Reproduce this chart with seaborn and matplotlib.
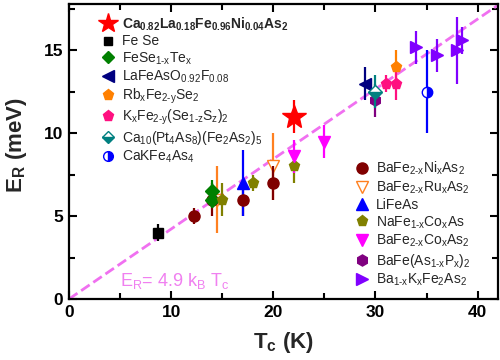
import matplotlib
matplotlib.use("Agg")
import matplotlib.pyplot as plt
import seaborn as sns
from matplotlib.lines import Line2D
from matplotlib.ticker import MultipleLocator

# ---------------------------------------------------
# Data (Tc in K, E_R in meV, error in meV)
# ---------------------------------------------------

star_tc = [22.0]
star_er = [11.0]
star_err = [1.0]

fese_tc = [8.7]
fese_er = [4.0]
fese_err = [0.5]

fesete_tc = [14.0, 14.0]
fesete_er = [6.5, 6.0]
fesete_err = [0.7, 0.5]

lafeaso_tc = [29.0]
lafeaso_er = [13.0]
lafeaso_err = [1.0]

rb_tc = [32.0]
rb_er = [14.0]
rb_err = [1.0]

kfese_tc = [31.0, 32.0]
kfese_er = [13.0, 13.0]
kfese_err = [0.5, 1.0]

ca10_tc = [30.0]
ca10_er = [12.5]
ca10_err = [1.0]

cak_tc = [35.0]
cak_er = [12.5]
cak_err = [2.5]

bani_tc = [12.2, 14.0, 17.0, 20.0]
bani_er = [5.0, 6.0, 6.0, 7.0]
bani_err = [0.5, 1.0, 1.0, 1.0]

baru_tc = [14.5, 20.0]
baru_er = [6.0, 8.0]
baru_err = [2.0, 2.0]

lifeas_tc = [17.0]
lifeas_er = [7.0]
lifeas_err = [2.0]

naco_tc = [15.0, 18.0, 22.0]
naco_er = [6.0, 7.0, 8.0]
naco_err = [1.0, 0.5, 1.0]

baco_tc = [22.0, 25.0]
baco_er = [8.6, 9.5]
baco_err = [1.0, 1.0]

bap_tc = [30.0]
bap_er = [12.0]
bap_err = [1.0]

bak_tc = [34.0, 36.0, 38.0, 38.5]
bak_er = [15.2, 14.7, 15.0, 15.6]
bak_err = [1.0, 1.0, 2.0, 0.8]

fit_factor = 4.9
k_b = 0.08617  # meV/K
fit_tc = [0.0, 42.0]

# ---------------------------------------------------
# Style
# ---------------------------------------------------

sns.set_theme(style="ticks")
plt.rcParams["font.family"] = ["Liberation Sans", "DejaVu Sans"]
plt.rcParams["mathtext.fontset"] = "custom"
plt.rcParams["mathtext.rm"] = "Liberation Sans"
plt.rcParams["mathtext.it"] = "Liberation Sans:italic"
plt.rcParams["mathtext.bf"] = "Liberation Sans:bold"
plt.rcParams["mathtext.default"] = "regular"

fig = plt.figure(figsize=(5, 3.6), dpi=100)
ax = fig.add_axes([69 / 500, 61 / 360, 429 / 500, 295 / 360])

# fit line
fit_er = [fit_factor * k_b * t for t in fit_tc]
sns.lineplot(x=fit_tc, y=fit_er, ax=ax, color="#f070f0", linewidth=2,
             dashes=(6, 4), linestyle="--", zorder=1)


def series(tc, er, err, color, marker, ms=8, fill="full", mfc=None, z=3):
    ax.errorbar(tc, er, yerr=err, fmt="none", ecolor=color,
                elinewidth=1.6, capsize=0, zorder=z)
    ax.plot(tc, er, linestyle="none", marker=marker, color=color, ms=ms,
            fillstyle=fill, markerfacecoloralt="white",
            markerfacecolor=mfc if mfc else color,
            markeredgecolor=color, markeredgewidth=1.0, zorder=z + 0.5)


series(bani_tc, bani_er, bani_err, "#800000", "o")
series(fesete_tc, fesete_er, fesete_err, "#008000", "D", ms=7)
series(baru_tc, baru_er, baru_err, "#ff8020", "v", mfc="white", z=2)
series(lifeas_tc, lifeas_er, lifeas_err, "#0000ff", "^")
series(naco_tc, naco_er, naco_err, "#808000", "p")
series(baco_tc, baco_er, baco_err, "#ff00ff", "v", z=3.2)
series(bap_tc, bap_er, bap_err, "#800080", "h")
series(bak_tc, bak_er, bak_err, "#8000ff", ">")
series(fese_tc, fese_er, fese_err, "#000000", "s", ms=6.5)
series(lafeaso_tc, lafeaso_er, lafeaso_err, "#000080", "<")
series(rb_tc, rb_er, rb_err, "#ff8000", "p")
series(kfese_tc, kfese_er, kfese_err, "#ff1080", "p")
series(ca10_tc, ca10_er, ca10_err, "#008080", "D", ms=7, fill="bottom", z=4)
series(cak_tc, cak_er, cak_err, "#0000ff", "o", ms=7.5, fill="right")
series(star_tc, star_er, star_err, "#ff0000", "*", ms=18, z=5)

ax.text(5.0, 1.1, r"E$_R$= 4.9 k$_B$ T$_c$", color="#f080f0", fontsize=13,
        va="center", ha="left")

# ---------------------------------------------------
# Axes
# ---------------------------------------------------

ax.set_xlim(0, 42)
ax.set_ylim(0, 17.8)
ax.xaxis.set_major_locator(MultipleLocator(10))
ax.xaxis.set_minor_locator(MultipleLocator(5))
ax.yaxis.set_major_locator(MultipleLocator(5))
ax.yaxis.set_minor_locator(MultipleLocator(2.5))
ax.tick_params(which="both", direction="in", top=True, right=True,
               width=1.5, colors="black")
ax.tick_params(which="major", length=6, labelsize=12.5, pad=4)
ax.tick_params(which="minor", length=4)
for lbl in ax.get_xticklabels() + ax.get_yticklabels():
    lbl.set_fontweight("bold")
for sp in ax.spines.values():
    sp.set_linewidth(1.6)
    sp.set_color("black")

ax.set_xlabel(r"T$_c$ (K)", fontsize=16, fontweight="bold")
ax.set_ylabel(r"E$_R$ (meV)", fontsize=16, fontweight="bold")
ax.xaxis.set_label_coords(0.5, -0.105)
ax.yaxis.set_label_coords(-0.093, 0.52)

# ---------------------------------------------------
# Legends
# ---------------------------------------------------


def handle(color, marker, ms=8, fill="full", mfc=None):
    return Line2D([], [], linestyle="none", marker=marker, color=color,
                  ms=ms, fillstyle=fill, markerfacecoloralt="white",
                  markerfacecolor=mfc if mfc else color,
                  markeredgecolor=color)


h1 = [
    handle("#ff0000", "*", ms=15),
    handle("#000000", "s", ms=6),
    handle("#008000", "D", ms=6.5),
    handle("#000080", "<"),
    handle("#ff8000", "p"),
    handle("#ff1080", "p"),
    handle("#008080", "D", ms=6.5, fill="bottom"),
    handle("#0000ff", "o", ms=7, fill="right"),
]
l1 = [
    r"Ca$_{0.82}$La$_{0.18}$Fe$_{0.96}$Ni$_{0.04}$As$_2$",
    "Fe Se",
    r"FeSe$_{1\text{-}x}$Te$_x$",
    r"LaFeAsO$_{0.92}$F$_{0.08}$",
    r"Rb$_x$Fe$_{2\text{-}y}$Se$_2$",
    r"K$_x$Fe$_{2\text{-}y}$(Se$_{1\text{-}z}$S$_z$)$_2$",
    r"Ca$_{10}$(Pt$_4$As$_8$)(Fe$_2$As$_2$)$_5$",
    r"CaKFe$_4$As$_4$",
]
leg1 = ax.legend(h1, l1, loc="upper left", bbox_to_anchor=(0.055, 0.99),
                 frameon=False, fontsize=10, handlelength=1.0,
                 handletextpad=0.5, labelspacing=0.13, borderaxespad=0.2)
leg1.get_texts()[0].set_fontweight("bold")
ax.add_artist(leg1)

h2 = [
    handle("#800000", "o"),
    handle("#ff8020", "v", mfc="white"),
    handle("#0000ff", "^"),
    handle("#808000", "p"),
    handle("#ff00ff", "v"),
    handle("#800080", "h"),
    handle("#8000ff", ">"),
]
l2 = [
    r"BaFe$_{2\text{-}x}$Ni$_x$As$_2$",
    r"BaFe$_{2\text{-}x}$Ru$_x$As$_2$",
    "LiFeAs",
    r"NaFe$_{1\text{-}x}$Co$_x$As",
    r"BaFe$_{2\text{-}x}$Co$_x$As$_2$",
    r"BaFe(As$_{1\text{-}x}$P$_x$)$_2$",
    r"Ba$_{1\text{-}x}$K$_x$Fe$_2$As$_2$",
]
ax.legend(h2, l2, loc="upper left", bbox_to_anchor=(0.647, 0.50),
          frameon=False, fontsize=10, handlelength=1.0,
          handletextpad=0.5, labelspacing=0.16, borderaxespad=0.2)

fig.savefig("out.png", dpi=100, facecolor="white")
plt.close(fig)
